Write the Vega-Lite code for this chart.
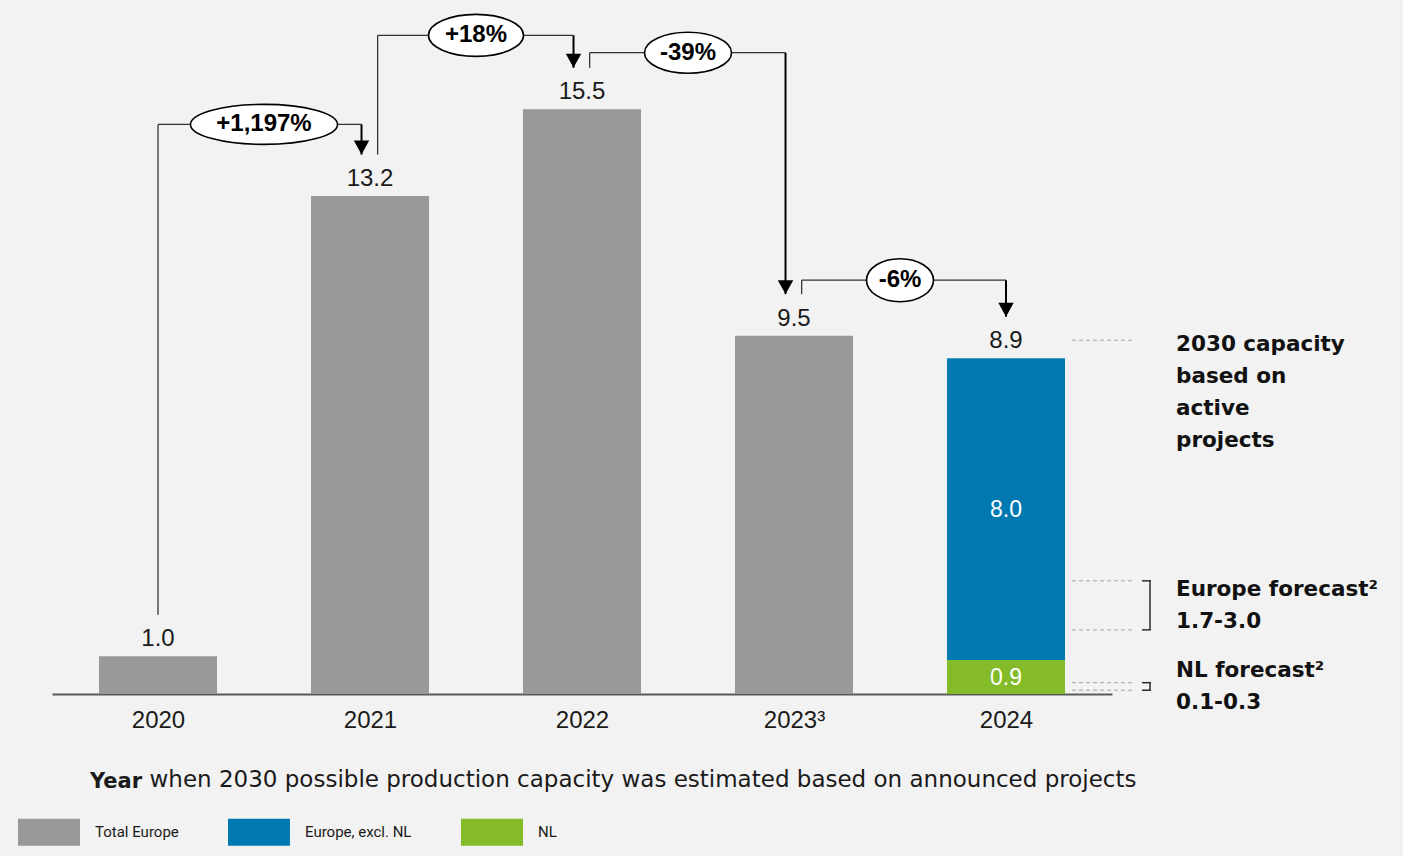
{
  "$schema": "https://vega.github.io/schema/vega-lite/v6.json",
  "width": 1060,
  "height": 679,
  "autosize": {"type": "none"},
  "padding": {"left": 52, "top": 15, "right": 291, "bottom": 162},
  "background": "#f2f2f2",
  "config": {"view": {"stroke": null}, "text": {"lineBreak": "\n"}},
  "title": {"text": "Year", "orient": "top", "anchor": "start", "frame": "group", "font": "DejaVu Sans", "fontSize": 21, "fontWeight": "bold", "color": "#1a1a1a", "baseline": "alphabetic", "dx": 38, "dy": 798, "offset": 0},
  "resolve": {"axis": {"x": "independent", "y": "independent"}},
  "datasets": {
    "capacity": [
      {"year": 2020, "series": "Total Europe", "value": 1.0},
      {"year": 2021, "series": "Total Europe", "value": 13.2},
      {"year": 2022, "series": "Total Europe", "value": 15.5},
      {"year": 2023, "series": "Total Europe", "value": 9.5},
      {"year": 2024, "series": "Europe, excl. NL", "value": 8.0},
      {"year": 2024, "series": "NL", "value": 0.9}
    ],
    "changes": [
      {"from": 2020, "to": 2021, "fromVal": 1.0, "toVal": 13.2, "level": 15.1, "label": "+1,197%"},
      {"from": 2021, "to": 2022, "fromVal": 13.2, "toVal": 15.5, "level": 17.46, "label": "+18%"},
      {"from": 2022, "to": 2023, "fromVal": 15.5, "toVal": 9.5, "level": 17.0, "label": "-39%"},
      {"from": 2023, "to": 2024, "fromVal": 9.5, "toVal": 8.9, "level": 10.97, "label": "-6%"}
    ],
    "note": [
      {"year": 2024, "value": 8.9, "text": "2030 capacity\nbased on\nactive\nprojects"}
    ],
    "ranges": [
      {"year": 2024, "lo": 1.7, "hi": 3.0, "text": "Europe forecast²\n1.7-3.0"},
      {"year": 2024, "lo": 0.1, "hi": 0.3, "text": "NL forecast²\n0.1-0.3"}
    ]
  },
  "layer": [
    {
      "data": {"name": "capacity"},
      "transform": [
        {"stack": "value", "groupby": ["year"], "sort": [{"field": "series", "order": "descending"}], "as": ["v0", "v1"]}
      ],
      "mark": {"type": "bar", "width": 118},
      "encoding": {
        "x": {
          "field": "year", "type": "quantitative",
          "scale": {"domain": [2019.5, 2024.5], "nice": false, "zero": false, "padding": 0},
          "axis": {
            "orient": "bottom",
            "values": [2020, 2021, 2022, 2023, 2024], "format": "d",
            "labelExpr": "datum.value == 2023 ? '2023³' : datum.label",
            "ticks": false, "grid": false, "domain": true,
            "domainColor": "#595959", "domainWidth": 2,
            "labelFont": "Liberation Sans", "labelFontSize": 24, "labelColor": "#1a1a1a", "labelPadding": 14,
            "title": "when 2030 possible production capacity was estimated based on announced projects",
            "titleFont": "DejaVu Sans", "titleFontSize": 23, "titleFontWeight": "normal", "titleColor": "#1a1a1a",
            "titleAnchor": "start", "titleAlign": "left", "titleX": 97, "titleY": 92, "titleBaseline": "alphabetic"
          }
        },
        "y": {"field": "v1", "type": "quantitative", "scale": {"domain": [0, 18], "nice": false, "zero": true}, "axis": null},
        "y2": {"field": "v0"},
        "color": {
          "field": "series", "type": "nominal",
          "scale": {"domain": ["Total Europe", "Europe, excl. NL", "NL"], "range": ["#98999b", "#0079b0", "#85bb28"]},
          "legend": {
            "orient": "none", "legendX": -34, "legendY": 786, "direction": "horizontal", "title": null, "padding": 0,
            "symbolType": "M-1,-0.435H1V0.435H-1Z", "symbolSize": 3844, "symbolStrokeWidth": 0, "symbolOpacity": 1,
            "labelFont": "Roboto", "labelFontSize": 15, "labelColor": "#1a1a1a", "labelOffset": 15, "labelBaseline": "middle",
            "columnPadding": 49
          }
        }
      }
    },
    {
      "data": {"name": "capacity"},
      "transform": [{"aggregate": [{"op": "sum", "field": "value", "as": "total"}], "groupby": ["year"]}],
      "mark": {"type": "text", "font": "Liberation Sans", "fontSize": 24, "color": "#1a1a1a", "baseline": "middle", "align": "center", "dy": -17},
      "encoding": {
        "x": {"field": "year", "type": "quantitative", "axis": null},
        "y": {"field": "total", "type": "quantitative", "axis": null},
        "text": {"field": "total", "type": "quantitative", "format": ".1f"}
      }
    },
    {
      "data": {"name": "capacity"},
      "transform": [
        {"stack": "value", "groupby": ["year"], "sort": [{"field": "series", "order": "descending"}], "as": ["v0", "v1"]},
        {"filter": "datum.series != 'Total Europe'"},
        {"calculate": "(datum.v0 + datum.v1) / 2", "as": "mid"}
      ],
      "mark": {"type": "text", "font": "Liberation Sans", "fontSize": 23, "color": "#ffffff", "baseline": "middle", "align": "center", "dy": 1},
      "encoding": {
        "x": {"field": "year", "type": "quantitative", "axis": null},
        "y": {"field": "mid", "type": "quantitative", "axis": null},
        "text": {"field": "value", "type": "quantitative", "format": ".1f"}
      }
    },
    {
      "data": {"name": "changes"},
      "transform": [
        {"calculate": "datum.from + (datum.from == 2020 ? 0 : 0.036)", "as": "xs"},
        {"calculate": "datum.to - (datum.to == 2024 ? 0 : 0.04)", "as": "xe"},
        {"calculate": "datum.fromVal + 1.1", "as": "ys"},
        {"calculate": "datum.toVal + 1.1", "as": "ye"},
        {"calculate": "(datum.from + datum.to) / 2", "as": "xm"}
      ],
      "layer": [
        {
          "mark": {"type": "rule", "color": "#333333", "strokeWidth": 1.3},
          "encoding": {
            "x": {"field": "xs", "type": "quantitative", "axis": null},
            "y": {"field": "ys", "type": "quantitative", "axis": null},
            "y2": {"field": "level"}
          }
        },
        {
          "mark": {"type": "rule", "color": "#333333", "strokeWidth": 1.3},
          "encoding": {
            "x": {"field": "xs", "type": "quantitative", "axis": null},
            "x2": {"field": "xe"},
            "y": {"field": "level", "type": "quantitative", "axis": null}
          }
        },
        {
          "mark": {"type": "rule", "color": "#000000", "strokeWidth": 2},
          "encoding": {
            "x": {"field": "xe", "type": "quantitative", "axis": null},
            "y": {"field": "level", "type": "quantitative", "axis": null},
            "y2": {"field": "ye"}
          }
        },
        {
          "mark": {"type": "point", "shape": "M0,0L-0.55,-1L0.55,-1Z", "size": 784, "filled": true, "color": "#000000", "opacity": 1, "strokeWidth": 0},
          "encoding": {
            "x": {"field": "xe", "type": "quantitative", "axis": null},
            "y": {"field": "ye", "type": "quantitative", "axis": null}
          }
        },
        {
          "mark": {"type": "point", "size": 10000, "filled": false, "fill": "#ffffff", "fillOpacity": 1, "stroke": "#000000", "strokeWidth": 1.6, "opacity": 1},
          "encoding": {
            "x": {"field": "xm", "type": "quantitative", "axis": null},
            "y": {"field": "level", "type": "quantitative", "axis": null},
            "shape": {
              "field": "label", "type": "nominal", "legend": null,
              "scale": {
                "domain": ["+1,197%", "+18%", "-39%", "-6%"],
                "range": [
                  "M-1.47,0C-1.47,-0.221,-0.812,-0.4,0,-0.4C0.812,-0.4,1.47,-0.221,1.47,0C1.47,0.221,0.812,0.4,0,0.4C-0.812,0.4,-1.47,0.221,-1.47,0Z",
                  "M-0.95,0C-0.95,-0.232,-0.525,-0.42,0,-0.42C0.525,-0.42,0.95,-0.232,0.95,0C0.95,0.232,0.525,0.42,0,0.42C-0.525,0.42,-0.95,0.232,-0.95,0Z",
                  "M-0.87,0C-0.87,-0.226,-0.48,-0.41,0,-0.41C0.48,-0.41,0.87,-0.226,0.87,0C0.87,0.226,0.48,0.41,0,0.41C-0.48,0.41,-0.87,0.226,-0.87,0Z",
                  "M-0.67,0C-0.67,-0.237,-0.37,-0.43,0,-0.43C0.37,-0.43,0.67,-0.237,0.67,0C0.67,0.237,0.37,0.43,0,0.43C-0.37,0.43,-0.67,0.237,-0.67,0Z"
                ]
              }
            }
          }
        },
        {
          "mark": {"type": "text", "font": "Liberation Sans", "fontSize": 24, "fontWeight": "bold", "color": "#000000", "baseline": "middle", "align": "center"},
          "encoding": {
            "x": {"field": "xm", "type": "quantitative", "axis": null},
            "y": {"field": "level", "type": "quantitative", "axis": null},
            "text": {"field": "label"}
          }
        }
      ]
    },
    {
      "data": {"name": "note"},
      "layer": [
        {
          "mark": {"type": "rule", "color": "#a6a6a6", "strokeWidth": 1, "strokeDash": [4, 3], "xOffset": 66, "x2Offset": 128, "yOffset": -18},
          "encoding": {
            "x": {"field": "year", "type": "quantitative", "axis": null},
            "x2": {"field": "year"},
            "y": {"field": "value", "type": "quantitative", "axis": null}
          }
        },
        {
          "mark": {"type": "text", "font": "DejaVu Sans", "fontSize": 21.5, "fontWeight": "bold", "color": "#111111", "align": "left", "baseline": "top", "lineHeight": 32, "dx": 170, "dy": -24},
          "encoding": {
            "x": {"field": "year", "type": "quantitative", "axis": null},
            "y": {"field": "value", "type": "quantitative", "axis": null},
            "text": {"field": "text"}
          }
        }
      ]
    },
    {
      "data": {"name": "ranges"},
      "layer": [
        {
          "transform": [{"fold": ["lo", "hi"], "as": ["bound", "v"]}],
          "layer": [
            {
              "mark": {"type": "rule", "color": "#a6a6a6", "strokeWidth": 1, "strokeDash": [4, 3], "xOffset": 66, "x2Offset": 128},
              "encoding": {
                "x": {"field": "year", "type": "quantitative", "axis": null},
                "x2": {"field": "year"},
                "y": {"field": "v", "type": "quantitative", "axis": null}
              }
            },
            {
              "mark": {"type": "rule", "color": "#222222", "strokeWidth": 1.4, "xOffset": 136, "x2Offset": 145},
              "encoding": {
                "x": {"field": "year", "type": "quantitative", "axis": null},
                "x2": {"field": "year"},
                "y": {"field": "v", "type": "quantitative", "axis": null}
              }
            }
          ]
        },
        {
          "mark": {"type": "rule", "color": "#222222", "strokeWidth": 1.4, "xOffset": 144},
          "encoding": {
            "x": {"field": "year", "type": "quantitative", "axis": null},
            "y": {"field": "hi", "type": "quantitative", "axis": null},
            "y2": {"field": "lo"}
          }
        },
        {
          "transform": [{"calculate": "(datum.lo + datum.hi) / 2", "as": "mid"}],
          "mark": {"type": "text", "font": "DejaVu Sans", "fontSize": 21.5, "fontWeight": "bold", "color": "#111111", "align": "left", "baseline": "middle", "lineHeight": 32, "dx": 170, "dy": -15},
          "encoding": {
            "x": {"field": "year", "type": "quantitative", "axis": null},
            "y": {"field": "mid", "type": "quantitative", "axis": null},
            "text": {"field": "text"}
          }
        }
      ]
    }
  ]
}
